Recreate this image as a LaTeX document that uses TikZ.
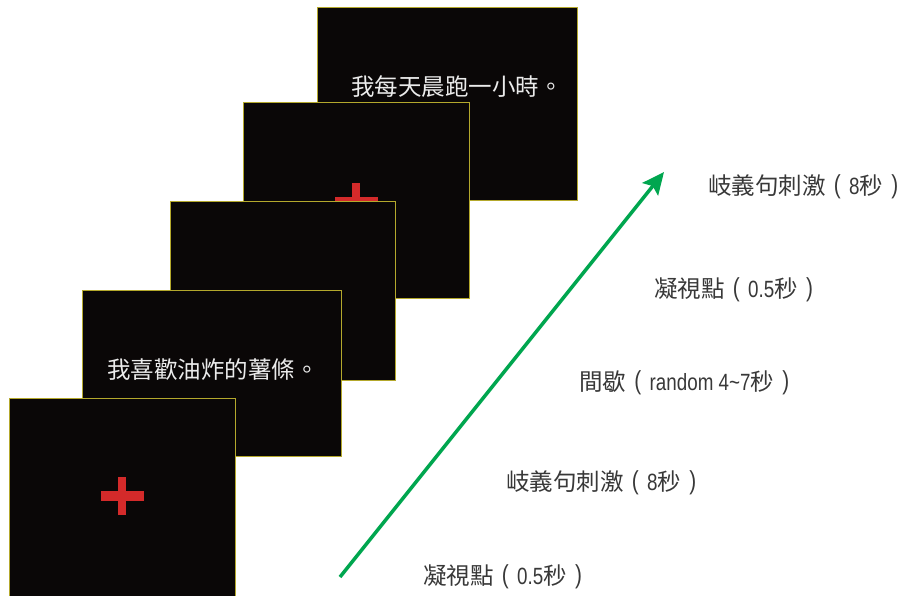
\documentclass[tikz,border=0pt]{standalone}
\usepackage{fontspec}
\setmainfont{Noto Sans CJK TC}
\newfontfamily\cjk{Noto Sans CJK TC}
\newfontfamily\lat[FakeStretch=0.8]{Liberation Sans}
\usetikzlibrary{arrows.meta}
\definecolor{scrfill}{HTML}{0A0707}
\definecolor{scrline}{HTML}{B4A82C}
\definecolor{crossred}{HTML}{D42A2A}
\definecolor{arrowgreen}{HTML}{00A64F}
\definecolor{labelgray}{HTML}{383838}
\newcommand{\myLP}{\makebox[1em][c]{\raisebox{0.04em}{\lat\fontsize{26}{26}\selectfont(}}}
\newcommand{\myRP}{\makebox[1em][c]{\raisebox{0.04em}{\lat\fontsize{26}{26}\selectfont)}}}
\tikzset{
  screen/.style={draw=scrline, line width=1.4pt, fill=scrfill, anchor=north west, inner sep=0pt},
  sentence/.style={text=white!92!black, font=\cjk\fontsize{23.5}{26}\selectfont, inner sep=0pt},
  steplabel/.style={text=labelgray, font=\cjk\fontsize{23.5}{26}\selectfont, anchor=west, inner sep=0pt},
  crossbar/.style={fill=crossred, draw=none},
}
\begin{document}
\begin{tikzpicture}[x=1pt,y=-1pt]
\useasboundingbox (0,0) rectangle (904,595);
% screens back to front
\node[screen, minimum width=260pt, minimum height=193pt] (s1) at (317,7) {};
\node[sentence, anchor=west] (t1) at (351,87) {我每天晨跑一小時。};
\node[screen, minimum width=226pt, minimum height=196pt] (s2) at (243,102) {};
\coordinate (c2) at (356,202);
\fill[crossbar] ([xshift=-21.5pt,yshift=-5pt]c2) rectangle ([xshift=21.5pt,yshift=5pt]c2);
\fill[crossbar] ([xshift=-4pt,yshift=-19pt]c2) rectangle ([xshift=4pt,yshift=19pt]c2);
\node[screen, minimum width=225pt, minimum height=179pt] (s3) at (170,201) {};
\node[screen, minimum width=259pt, minimum height=166pt] (s4) at (82,290) {};
\node[sentence, anchor=west] (t4) at (107,370) {我喜歡油炸的薯條。};
\node[screen, minimum width=226pt, minimum height=200pt] (s5) at (9,398) {};
\coordinate (c5) at (122,496);
\fill[crossbar] ([xshift=-21.5pt,yshift=-5pt]c5) rectangle ([xshift=21.5pt,yshift=5pt]c5);
\fill[crossbar] ([xshift=-4pt,yshift=-19pt]c5) rectangle ([xshift=4pt,yshift=19pt]c5);
% time arrow
\coordinate (a0) at (340,577);
\coordinate (a1) at (664,172);
\draw[arrowgreen, line width=3.5pt, -{Stealth[length=22pt, width=20pt, inset=4pt]}] (a0) -- (a1);
% labels
\node[steplabel] (l5) at (708,187) {岐義句刺激\myLP{\lat 8}秒\myRP};
\node[steplabel] (l4) at (654,290) {凝視點\myLP{\lat 0.5}秒\myRP};
\node[steplabel] (l3) at (579,383) {間歇\myLP{\lat random 4\char`\~7}秒\myRP};
\node[steplabel] (l2) at (506,483) {岐義句刺激\myLP{\lat 8}秒\myRP};
\node[steplabel] (l1) at (423,577) {凝視點\myLP{\lat 0.5}秒\myRP};
\end{tikzpicture}
\end{document}
